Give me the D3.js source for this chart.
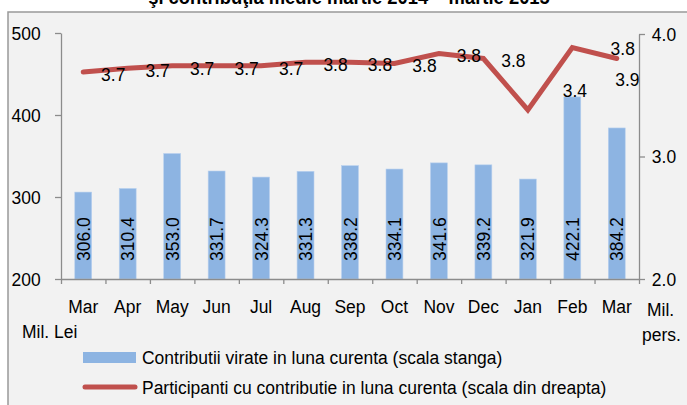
<!DOCTYPE html>
<html>
<head>
<meta charset="utf-8">
<script src="https://cdn.jsdelivr.net/npm/d3@7"></script>
<style>
  body { margin: 0; background: #fff; }
  text { font-family: "Liberation Sans", Arial, sans-serif; fill: #000; }
</style>
</head>
<body>
<div id="chart"></div>
<script>
var months = ["Mar", "Apr", "May", "Jun", "Jul", "Aug", "Sep", "Oct", "Nov", "Dec", "Jan", "Feb", "Mar"];
var contributii = [306.0, 310.4, 353.0, 331.7, 324.3, 331.3, 338.2, 334.1, 341.6, 339.2, 321.9, 422.1, 384.2];
var participanti = [3.69, 3.72, 3.74, 3.74, 3.74, 3.77, 3.77, 3.76, 3.84, 3.80, 3.38, 3.89, 3.80];
var leftTicks = [200, 300, 400, 500];
var rightTicks = [2.0, 3.0, 4.0];
var legendLabels = [
  "Contributii virate in luna curenta (scala stanga)",
  "Participanti cu contributie in luna curenta (scala din dreapta)"
];
var title = "şi contribuţia medie martie 2014 – martie 2015";

var width = 687, height = 405;
var margin = { top: 33, right: 45, bottom: 126, left: 61 };
var blue = "#8db4e2", red = "#c0504d", axisColor = "#8c8c8c";
var sx = 0.92; // original text looks slightly condensed
var fs = 19;

var svg = d3.select("#chart").append("svg").attr("width", width).attr("height", height);

// frame
svg.append("rect").attr("x", 8).attr("y", 12).attr("width", width).attr("height", height)
  .attr("fill", "#f2f2f2").attr("stroke", "#999").attr("stroke-width", 1.5);

function label(g, x, y, txt, anchor, size, extra) {
  return g.append("text")
    .attr("transform", "translate(" + x + "," + y + ")" + (extra || "") + " scale(" + sx + ",1)")
    .attr("text-anchor", anchor || "start")
    .attr("font-size", size || fs)
    .text(txt);
}

// title, cut by the top of the picture
label(svg, 349, 4, title, "middle", 20).attr("font-weight", "bold");

var x0 = margin.left, x1 = width - margin.right - 3;
var x = d3.scaleBand().domain(d3.range(months.length)).range([x0, x1]).paddingInner(0.62).paddingOuter(0.31);
var xEdge = d3.scaleLinear().domain([0, months.length]).range([x0, x1]);
var yL = d3.scaleLinear().domain([200, 500]).range([279, 33]);
var yR = d3.scaleLinear().domain([2, 4]).range([279, 34]);

// bars
svg.append("g").selectAll("rect").data(contributii).join("rect")
  .attr("x", function (d, i) { return x(i); })
  .attr("y", function (d) { return yL(d); })
  .attr("width", x.bandwidth())
  .attr("height", function (d) { return yL(200) - yL(d); })
  .attr("fill", blue).attr("stroke", "#b8d0ee").attr("stroke-width", 0.6);

var barLabels = svg.append("g");
contributii.forEach(function (d, i) {
  label(barLabels, x(i) + x.bandwidth() / 2, yL(200) - 18, d3.format(".1f")(d), "start", fs, " rotate(-90)")
    .attr("dy", "0.35em");
});

// axes
function styleAxis(g) {
  g.selectAll("path, line").attr("stroke", axisColor).attr("stroke-width", 1.3);
  g.selectAll("text").attr("font-size", fs).attr("font-family", "Liberation Sans, Arial, sans-serif").attr("fill", "#000");
}
svg.append("g").attr("transform", "translate(" + x0 + ",0)")
  .call(d3.axisLeft(yL).tickValues(leftTicks).tickSize(6).tickSizeOuter(0).tickPadding(16))
  .call(styleAxis);
svg.append("g").attr("transform", "translate(" + x1 + ",0)")
  .call(d3.axisRight(yR).tickValues(rightTicks).tickFormat(d3.format(".1f")).tickSize(6).tickSizeOuter(0).tickPadding(8))
  .call(styleAxis);
svg.append("g").attr("transform", "translate(0," + yL(200) + ")")
  .call(d3.axisBottom(xEdge).tickValues(d3.range(months.length + 1)).tickFormat("").tickSize(5).tickSizeOuter(0))
  .call(styleAxis);
svg.selectAll(".tick text").attr("transform", "scale(" + sx + ",1)");

var monthG = svg.append("g");
months.forEach(function (m, i) {
  label(monthG, x(i) + x.bandwidth() / 2, 313, m, "middle", fs);
});
label(svg, 22, 338, "Mil. Lei", "start", fs);
label(svg, 647, 316, "Mil.", "start", fs);
label(svg, 642, 341, "pers.", "start", fs);

// line
var line = d3.line()
  .x(function (d, i) { return x(i) + x.bandwidth() / 2; })
  .y(function (d) { return yR(d); });
svg.append("path").datum(participanti).attr("d", line)
  .attr("fill", "none").attr("stroke", red).attr("stroke-width", 5)
  .attr("stroke-linecap", "round").attr("stroke-linejoin", "miter");

// data labels sit to the right of each point; last three were moved by hand in the original
var nudges = { 10: [47, -20], 11: [55, 32], 12: [6, -10] };
var lineLabels = svg.append("g");
participanti.forEach(function (d, i) {
  var n = nudges[i] || [30, 2];
  label(lineLabels, x(i) + x.bandwidth() / 2 + n[0], yR(d) + n[1], d3.format(".1f")(d), "middle", fs)
    .attr("dy", "0.35em");
});

// legend
var leg = svg.append("g");
leg.append("rect").attr("x", 83).attr("y", 352).attr("width", 53).attr("height", 11).attr("fill", blue);
label(leg, 142, 364, legendLabels[0], "start", fs);
leg.append("line").attr("x1", 85).attr("x2", 135).attr("y1", 387).attr("y2", 387)
  .attr("stroke", red).attr("stroke-width", 5).attr("stroke-linecap", "round");
label(leg, 142, 394, legendLabels[1], "start", fs);
</script>
</body>
</html>
